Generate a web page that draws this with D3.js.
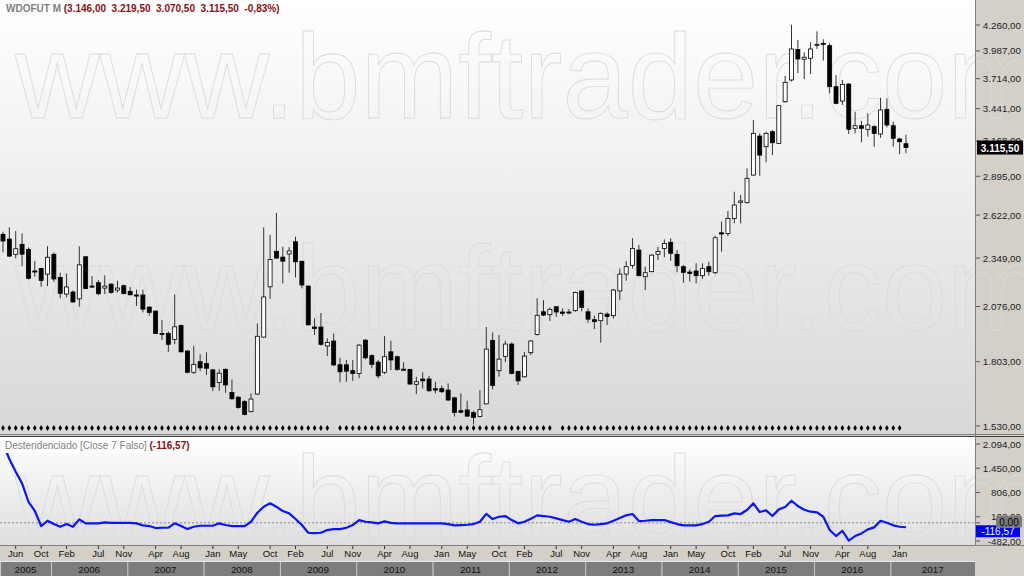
<!DOCTYPE html>
<html><head><meta charset="utf-8">
<script src="https://cdn.jsdelivr.net/npm/d3@7"></script>
<style>body{margin:0;background:#fff;overflow:hidden}svg{display:block;font-family:"Liberation Sans",Arial,sans-serif}</style>
</head><body><svg id="c" width="1024" height="576"></svg>
<script>
// ---- DATA (monthly candles, Apr 2005 .. Feb 2017) ----
const open=[2496,2466,2372,2433,2402,2273,2288,2255,2372,2236,
2143,2154,2117,2357,2187,2206,2176,2198,2165,2189,
2158,2138,2138,2073,2052,1938,1938,1909,1978,1853,
1755,1803,1795,1766,1710,1768,1667,1647,1628,1587,
1660,1920,2183,2390,2355,2374,2449,2330,2187,1970,
1970,1877,1901,1789,1789,1762,1750,1905,1831,1801,
1755,1849,1826,1769,1768,1702,1725,1725,1683,1683,
1677,1644,1591,1594,1583,1568,1619,1904,1762,1828,
1886,1759,1735,1845,1933,2048,2033,2075,2047,2047,
2054,2160,2048,2007,2002,2036,2028,2160,2255,2306,
2398,2240,2269,2372,2408,2446,2372,2298,2267,2273,
2246,2298,2263,2506,2502,2600,2709,2706,2904,3208,
3122,3244,3149,3502,3702,4002,3903,3913,4048,4065,
4041,3639,3508,3664,3272,3294,3264,3286,3225,3435,
3294,3184,3146];
const high=[2513,2541,2517,2502,2414,2331,2292,2421,2384,2263,
2259,2163,2421,2358,2244,2221,2248,2202,2217,2195,
2182,2167,2167,2074,2053,2005,1948,2141,1981,1857,
1878,1838,1847,1769,1769,1773,1723,1650,1635,1663,
1988,2541,2493,2636,2418,2416,2481,2333,2191,2014,
2042,1914,1938,1821,1811,1811,1886,1910,1837,1811,
1925,1902,1831,1801,1771,1735,1755,1739,1713,1696,
1706,1649,1663,1632,1591,1677,1970,1943,1930,1902,
1894,1762,1849,1905,2120,2110,2071,2077,2066,2062,
2156,2163,2066,2028,2045,2045,2171,2288,2331,2471,
2429,2298,2372,2418,2464,2471,2398,2308,2283,2318,
2318,2327,2487,2578,2649,2783,2760,2954,3342,3230,
3244,3258,3473,3740,4262,4100,3973,4076,4192,4107,
4065,3749,3702,3671,3414,3334,3400,3300,3538,3533,
3328,3194,3219.5];
const low=[2384,2357,2347,2302,2225,2240,2183,2187,2211,2120,
2125,2098,2075,2170,2178,2136,2143,2145,2152,2143,
2136,2078,2045,2028,1935,1905,1849,1886,1847,1751,
1747,1760,1743,1673,1673,1665,1637,1599,1572,1584,
1657,1917,2117,2345,2202,2263,2236,2174,1978,1930,
1878,1829,1784,1710,1713,1717,1728,1814,1773,1728,
1747,1765,1762,1762,1700,1660,1684,1670,1663,1665,
1631,1567,1580,1567,1536,1565,1617,1680,1735,1801,
1745,1699,1732,1834,1928,2026,2000,2022,2026,2035,
2048,2050,1992,1960,1892,1980,2012,2110,2217,2288,
2242,2165,2265,2337,2354,2333,2265,2206,2211,2202,
2228,2246,2255,2388,2485,2567,2567,2702,2899,2899,
3000,3056,3144,3493,3690,3766,3711,3759,4007,3889,
3578,3479,3473,3225,3230,3157,3203,3122,3194,3280,
3122,3064,3070.5];
const close=[2454,2361,2406,2373,2231,2267,2219,2354,2227,2147,
2182,2100,2309,2174,2182,2145,2187,2152,2176,2145,
2139,2132,2062,2045,1938,1933,1885,1971,1849,1755,
1791,1775,1773,1691,1751,1699,1640,1604,1576,1639,
1924,2127,2341,2349,2331,2392,2327,2193,1981,1963,
1885,1894,1788,1757,1760,1750,1881,1821,1791,1739,
1826,1811,1768,1764,1703,1713,1717,1674,1677,1670,
1635,1584,1585,1569,1564,1595,1862,1697,1815,1886,
1750,1717,1829,1901,2030,2031,2061,2047,2040,2043,
2152,2071,2010,1997,2040,2024,2165,2255,2298,2408,
2246,2263,2367,2390,2439,2378,2304,2265,2259,2246,
2288,2269,2474,2498,2600,2690,2718,2880,3230,3056,
3230,3154,3467,3680,4007,3906,3923,4007,4055,4058,
3639,3488,3661,3264,3294,3272,3300,3230,3429,3300,
3190,3162,3115.5];
const detrended=[2094,1695,1357,1049,560,321,-85,56,-32,-104,
-32,-104,93,-13,-13,-13,13,0,0,0,
0,-13,-66,-85,-138,-130,-125,-13,-85,-165,
-104,-77,-77,-77,-13,-58,-85,-85,-85,29,
268,428,518,428,313,252,101,-58,-263,-271,
-263,-191,-165,-165,-130,-58,74,29,13,-13,
40,0,-13,-13,-13,-13,-13,-13,-13,-13,
-32,-66,-58,-50,-32,29,240,100,162,181,
74,-13,29,109,199,181,162,119,74,29,
101,29,-32,-50,-32,-13,56,128,199,234,
48,56,74,74,74,20,-32,-68,-68,-68,
-32,29,181,190,199,252,234,340,518,287,
332,181,358,420,587,446,349,296,278,162,
-191,-351,-210,-470,-351,-280,-173,-120,56,3,
-66,-104,-116.57];
const noSignal=["2009-08","2012-07","2017-02"];
const monthTicks=["2005-06","2005-10","2006-02","2006-07","2006-11","2007-04","2007-08","2008-01","2008-05","2008-10",
"2009-02","2009-07","2009-11","2010-04","2010-08","2011-01","2011-05","2011-10","2012-02","2012-07","2012-11",
"2013-04","2013-08","2014-01","2014-05","2014-10","2015-02","2015-07","2015-11","2016-04","2016-08","2017-01"];
const years=[2005,2006,2007,2008,2009,2010,2011,2012,2013,2014,2015,2016,2017];
const priceTicks=[4260,3987,3714,3441,3168,2895,2622,2349,2076,1803,1530];
const detTicks=[2094,1450,806,162,-482];

// ---- SETUP ----
const kf=d3.timeFormat("%Y-%m");
const months=d3.timeMonth.range(new Date(2005,3,1),new Date(2017,2,1)).map(kf);
const data=months.map((m,i)=>({m,o:open[i],h:high[i],l:low[i],c:close[i],d:detrended[i]}));
const loc=d3.formatLocale({decimal:",",thousands:".",grouping:[3],currency:["",""],minus:"-"});
const fmt=loc.format(",.2f");

const svg=d3.select("#c");
const W=1024,H=576,PR=975;
const x=d3.scaleBand().domain(months).range([-0.18,-0.18+143*6.359]).padding(0);
const cx=m=>x(m)+x.bandwidth()/2;
const y=d3.scaleLog().domain([1530,4260]).range([426,25]);
const y2=d3.scaleLinear().domain([-482,2094]).range([541,444]);

const defs=svg.append("defs");
const g1=defs.append("linearGradient").attr("id","g1").attr("x1",0).attr("y1",0).attr("x2",0).attr("y2",1);
g1.append("stop").attr("offset",0).attr("stop-color","#ffffff");
g1.append("stop").attr("offset",1).attr("stop-color","#d8d8d8");
const g2=defs.append("linearGradient").attr("id","g2").attr("x1",0).attr("y1",0).attr("x2",0).attr("y2",1);
g2.append("stop").attr("offset",0).attr("stop-color","#ffffff");
g2.append("stop").attr("offset",1).attr("stop-color","#dedede");
defs.append("clipPath").attr("id","cp1").append("rect").attr("x",0).attr("y",0).attr("width",PR).attr("height",434);
defs.append("clipPath").attr("id","cp2").append("rect").attr("x",0).attr("y",437).attr("width",PR).attr("height",108);

// backgrounds
svg.append("rect").attr("x",0).attr("y",0).attr("width",W).attr("height",H).attr("fill","#d4d0c8");
svg.append("rect").attr("x",0).attr("y",0).attr("width",PR).attr("height",434).attr("fill","url(#g1)");
svg.append("rect").attr("x",0).attr("y",437).attr("width",PR).attr("height",108).attr("fill","url(#g2)");

// watermark (faint outlined text)
[118,330,540].forEach(b=>{
  svg.append("text").attr("x",15).attr("y",b).attr("font-size",121)
    .attr("textLength",1030).attr("lengthAdjust","spacingAndGlyphs")
    .attr("fill","none").attr("stroke","#dadada").attr("stroke-width",0.9)
    .text("www.bmftrader.com");
});

// separators
svg.append("line").attr("x1",0).attr("x2",W).attr("y1",434.5).attr("y2",434.5).attr("stroke","#808080");
svg.append("line").attr("x1",0).attr("x2",W).attr("y1",436.5).attr("y2",436.5).attr("stroke","#404040");
svg.append("line").attr("x1",0).attr("x2",W).attr("y1",545.5).attr("y2",545.5).attr("stroke","#808080");
svg.append("line").attr("x1",PR+0.5).attr("x2",PR+0.5).attr("y1",0).attr("y2",546).attr("stroke","#808080");

// candles
const cg=svg.append("g").attr("clip-path","url(#cp1)");
cg.selectAll(".wick").data(data).join("line")
  .attr("x1",d=>cx(d.m)).attr("x2",d=>cx(d.m)).attr("y1",d=>y(d.h)).attr("y2",d=>y(d.l))
  .attr("stroke","#333").attr("stroke-width",1);
cg.selectAll(".body").data(data).join("rect")
  .attr("x",d=>cx(d.m)-2).attr("width",4)
  .attr("y",d=>y(Math.max(d.o,d.c))).attr("height",d=>Math.max(1,y(Math.min(d.o,d.c))-y(Math.max(d.o,d.c))))
  .attr("fill",d=>d.c>=d.o?"#fff":"#000").attr("stroke","#000").attr("stroke-width",0.8);

// signal dots
cg.selectAll(".dot").data(data.filter(d=>!noSignal.includes(d.m))).join("path")
  .attr("transform",d=>`translate(${cx(d.m)},428)`)
  .attr("d",d3.symbol(d3.symbolDiamond,11)).attr("fill","#000");

// price axis
const pa=svg.append("g");
priceTicks.forEach(t=>{
  pa.append("line").attr("x1",PR+1).attr("x2",PR+5).attr("y1",y(t)).attr("y2",y(t)).attr("stroke","#555");
  pa.append("text").attr("x",1021).attr("y",y(t)+3.5).attr("text-anchor","end").attr("font-size",9.8).attr("fill","#222").text(fmt(t));
});
const last=data[data.length-1];
pa.append("rect").attr("x",977).attr("y",y(last.c)-7).attr("width",46).attr("height",14).attr("fill","#000");
pa.append("text").attr("x",1000).attr("y",y(last.c)+4).attr("text-anchor","middle").attr("font-size",10).attr("font-weight","bold").attr("fill","#fff").text(fmt(last.c));

// detrended panel
const dg=svg.append("g").attr("clip-path","url(#cp2)");
dg.append("line").attr("x1",0).attr("x2",PR).attr("y1",y2(0)).attr("y2",y2(0)).attr("stroke","#888").attr("stroke-dasharray","2,2");
dg.append("path").datum(data).attr("fill","none").attr("stroke","#0a14ff").attr("stroke-width",2.2)
  .attr("stroke-linejoin","round").attr("d",d3.line().x(d=>cx(d.m)).y(d=>y2(d.d)));
// title background box (hides line under the legend, as in the reference)
dg.append("rect").attr("x",0).attr("y",437).attr("width",192).attr("height",16).attr("fill","#ffffff");
const da=svg.append("g");
detTicks.forEach(t=>{
  da.append("line").attr("x1",PR+1).attr("x2",PR+5).attr("y1",y2(t)).attr("y2",y2(t)).attr("stroke","#555");
  da.append("text").attr("x",1021).attr("y",y2(t)+3.5).attr("text-anchor","end").attr("font-size",9.8).attr("fill","#222").text(fmt(t));
});
da.append("line").attr("x1",PR+1).attr("x2",PR+5).attr("y1",y2(0)).attr("y2",y2(0)).attr("stroke","#555");
da.append("rect").attr("x",976).attr("y",y2(last.d)-2).attr("width",44).attr("height",12).attr("fill","#0000ff");
da.append("text").attr("x",998).attr("y",y2(last.d)+8).attr("text-anchor","middle").attr("font-size",10).attr("fill","#fff").text(fmt(last.d));
da.append("rect").attr("x",996).attr("y",y2(0)-7).attr("width",26).attr("height",12).attr("rx",2).attr("fill","#7a7a7a");
da.append("text").attr("x",1009).attr("y",y2(0)+3).attr("text-anchor","middle").attr("font-size",10).attr("fill","#000").text(fmt(0));

// month axis
const ma=svg.append("g");
monthTicks.forEach(m=>{
  ma.append("line").attr("x1",cx(m)).attr("x2",cx(m)).attr("y1",546).attr("y2",549).attr("stroke","#333");
  ma.append("text").attr("x",cx(m)).attr("y",557).attr("text-anchor","middle").attr("font-size",9.5).attr("fill","#111")
    .text(d3.timeFormat("%b")(d3.timeParse("%Y-%m")(m)));
});
// year bar
const step=x.bandwidth();
const ystart=yr=>yr===years[0]?0:cx(yr+"-01")-1.45*step;
years.forEach((yr,i)=>{
  const s=ystart(yr), e=i<years.length-1?ystart(years[i+1]):PR;
  ma.append("rect").attr("x",s).attr("y",562).attr("width",e-s).attr("height",14).attr("fill","#7d7d7d");
  ma.append("line").attr("x1",s+0.5).attr("x2",s+0.5).attr("y1",562).attr("y2",576).attr("stroke","#c8c8c8");
  ma.append("text").attr("x",(s+e)/2).attr("y",573).attr("text-anchor","middle").attr("font-size",9.8).attr("fill","#111").text(yr);
});
ma.append("line").attr("x1",0).attr("x2",PR).attr("y1",561.5).attr("y2",561.5).attr("stroke","#e8e8e8");

// titles
const t1=svg.append("text").attr("x",6).attr("y",12).attr("font-size",10).attr("font-weight","bold");
t1.append("tspan").attr("fill","#808080").text("WDOFUT M ");
t1.append("tspan").attr("fill","#8b1010").attr("xml:space","preserve").text("(3.146,00  3.219,50  3.070,50  3.115,50  -0,83%)");
const t2=svg.append("text").attr("x",5).attr("y",449).attr("font-size",10);
t2.append("tspan").attr("fill","#808080").text("Destendenciado [Close 7 Falso] ");
t2.append("tspan").attr("fill","#8b1010").attr("font-weight","bold").text("(-116,57)");
</script></body></html>
